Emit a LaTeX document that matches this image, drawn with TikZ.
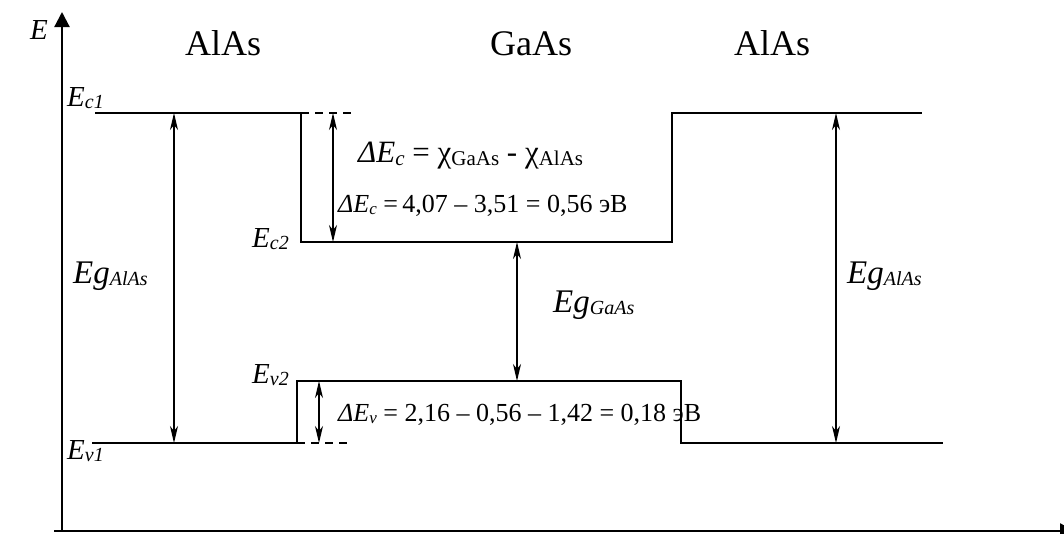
\documentclass[tikz,border=0pt]{standalone}
\usepackage{fontspec}
\setmainfont{Liberation Serif}
\usetikzlibrary{arrows.meta}
\newcommand{\fsz}[1]{\fontsize{#1}{#1}\selectfont}
\newcommand{\lowsub}[3]{\raisebox{-#1}{\fsz{#2}#3}}
\begin{document}
\begin{tikzpicture}[x=1pt, y=-1pt,
    band/.style={line width=2pt},
    gaparrow/.style={line width=1.5pt, {Stealth[length=17pt,width=8pt,inset=5pt]}-{Stealth[length=17pt,width=8pt,inset=5pt]}},
    guide/.style={line width=1.6pt, dash pattern=on 8pt off 6pt},
    axisline/.style={line width=2.2pt, -{Triangle[length=15pt,width=15pt]}},
    lbl/.style={inner sep=0pt, anchor=base west}]
    \useasboundingbox (0,0) rectangle (1064,533);

    % axes
    \coordinate (ybot) at (62,531);
    \coordinate (ytop) at (62,12);
    \coordinate (xleft) at (54,531);
    \coordinate (xright) at (1075,531);
    \draw[axisline] (ybot) -- (ytop);
    \draw[axisline] (xleft) -- (xright);
    \node[lbl] (elabel) at (30,39) {\fsz{29}\itshape E};

    % layer names
    \node[lbl] (alasleft) at (185,55) {\fsz{36}AlAs};
    \node[lbl] (gaas) at (490,55) {\fsz{36}GaAs};
    \node[lbl] (alasright) at (734,55) {\fsz{36}AlAs};

    % conduction band
    \coordinate (ec1a) at (95,113);
    \coordinate (ec1b) at (301,113);
    \coordinate (ec2a) at (301,242);
    \coordinate (ec2b) at (672,242);
    \coordinate (ec1c) at (672,113);
    \coordinate (ec1d) at (922,113);
    \draw[band] (ec1a) -- (ec1b) -- (ec2a) -- (ec2b) -- (ec1c) -- (ec1d);
    \coordinate (ecdash) at (353,113);
    \draw[guide] (ec1b) -- (ecdash);

    % valence band
    \coordinate (ev1a) at (92,443);
    \coordinate (ev1b) at (297,443);
    \coordinate (ev2a) at (297,381);
    \coordinate (ev2b) at (681,381);
    \coordinate (ev1c) at (681,443);
    \coordinate (ev1d) at (943,443);
    \draw[band] (ev1a) -- (ev1b) -- (ev2a) -- (ev2b) -- (ev1c) -- (ev1d);
    \coordinate (evdash) at (350,443);
    \draw[guide] (ev1b) -- (evdash);

    % level names
    \node[lbl] (ec1) at (67,106) {\fsz{29}\itshape E\lowsub{2pt}{20}{c1}};
    \node[lbl] (ec2) at (252,247) {\fsz{29}\itshape E\lowsub{2pt}{20}{c2}};
    \node[lbl] (ev2) at (252,383) {\fsz{29}\itshape E\lowsub{2pt}{20}{v2}};
    \node[lbl] (ev1) at (67,459) {\fsz{29}\itshape E\lowsub{2pt}{20}{v1}};

    % gaps
    \coordinate (gl1) at (174,113);
    \coordinate (gl2) at (174,443);
    \draw[gaparrow] (gl1) -- (gl2);
    \coordinate (gr1) at (836,113);
    \coordinate (gr2) at (836,443);
    \draw[gaparrow] (gr1) -- (gr2);
    \coordinate (gm1) at (517,242);
    \coordinate (gm2) at (517,381);
    \draw[gaparrow] (gm1) -- (gm2);
    \coordinate (dc1) at (333,113);
    \coordinate (dc2) at (333,242);
    \draw[gaparrow] (dc1) -- (dc2);
    \coordinate (dv1) at (319,381);
    \coordinate (dv2) at (319,443);
    \draw[gaparrow] (dv1) -- (dv2);

    \node[lbl] (egleft) at (73,283) {\fsz{33}\itshape Eg\lowsub{2pt}{20}{AlAs}};
    \node[lbl] (egright) at (847,283) {\fsz{33}\itshape Eg\lowsub{2pt}{20}{AlAs}};
    \node[lbl] (egmid) at (553,312) {\fsz{33}\itshape Eg\lowsub{2pt}{20}{GaAs}};

    % offsets
    \node[lbl] (dechi) at (358,162) {\fsz{31}\itshape ΔE\lowsub{3pt}{21}{c}\upshape{} = χ\lowsub{3pt}{21}{GaAs} - χ\lowsub{3pt}{21}{AlAs}};
    \node[lbl] (decval) at (338,212) {\fsz{26}\itshape ΔE\lowsub{2pt}{17}{c}\upshape{} =\,4,07 – 3,51 = 0,56 эВ};
    \node[lbl] (devval) at (338,421) {\fsz{26}\itshape ΔE\lowsub{2pt}{17}{v}\upshape{} = 2,16 – 0,56 – 1,42 = 0,18 эВ};
\end{tikzpicture}
\end{document}
